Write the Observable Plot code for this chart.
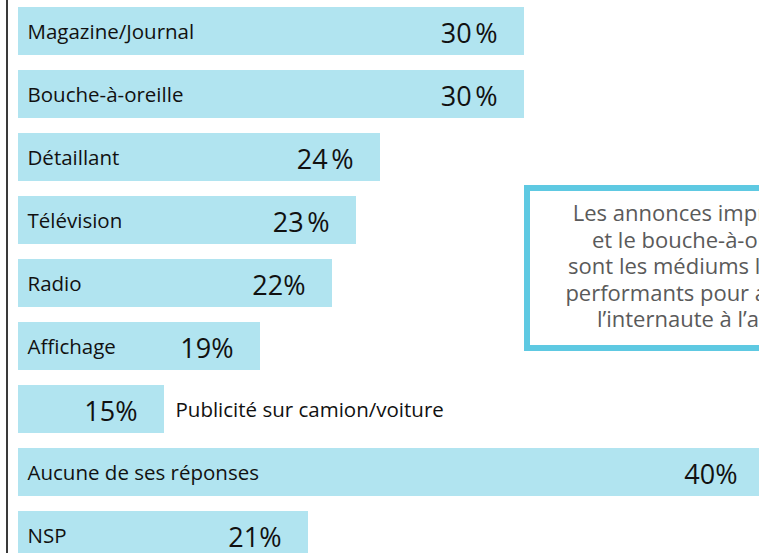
<!DOCTYPE html>
<html>
<head>
<meta charset="utf-8">
<script src="https://cdn.jsdelivr.net/npm/d3@7"></script>
<script src="https://cdn.jsdelivr.net/npm/@observablehq/plot@0.6"></script>
<style>
  html, body { margin: 0; padding: 0; background: #fff; overflow: hidden; width: 759px; height: 553px; }
  #wrap { position: relative; width: 759px; height: 553px; overflow: hidden; }
  #wrap svg { display: block; }
  #rule { position: absolute; left: 6px; top: 0; width: 2px; height: 553px; background: #3a3a3a; }
  #callout {
    position: absolute; left: 524px; top: 185px;
    width: 340px; height: 146px; padding-top: 8px;
    border: 6px solid #5ec9e2; background: #fff;
    font-family: "Open Sans", sans-serif; font-size: 22px; line-height: 26.5px;
    color: #5a5a5a; text-align: center; white-space: nowrap;
  }
</style>
</head>
<body>
<div id="wrap">
  <div id="chart"></div>
  <div id="rule"></div>
  <div id="callout">Les annonces imprimées<br>et le bouche-à-oreille<br>sont les médiums les plus<br>performants pour amener<br>l’internaute à l’achat</div>
</div>
<script>
const categories = [
  "Magazine/Journal",
  "Bouche-à-oreille",
  "Détaillant",
  "Télévision",
  "Radio",
  "Affichage",
  "Publicité sur camion/voiture",
  "Aucune de ses réponses",
  "NSP"
];
const values = [30, 30, 24, 23, 22, 19, 15, 40, 21];
const valueLabels = ["30\u202F%", "30\u202F%", "24\u202F%", "23\u202F%", "22%", "19%", "15%", "40%", "21%"];
const labelOutside = ["Publicité sur camion/voiture"];

const data = categories.map((c, i) => ({ category: c, value: values[i], label: valueLabels[i] }));

const chart = Plot.plot({
  width: 759,
  height: 567,
  marginLeft: 18,
  marginRight: 0,
  marginTop: 0,
  marginBottom: 0,
  x: { domain: [0, 40], range: [-196, 764], axis: null },
  y: { domain: categories, axis: null, paddingInner: 0.238, paddingOuter: 0.119, align: 0.5 },
  style: { fontFamily: "'Open Sans', sans-serif", background: "#fff", overflow: "hidden" },
  marks: [
    Plot.barX(data, { y: "category", x1: 0, x2: "value", fill: "#b1e4f0", clip: true }),
    Plot.text(data.filter(d => !labelOutside.includes(d.category)), {
      y: "category", text: "category", frameAnchor: "left", dx: 9, dy: 1,
      textAnchor: "start", fontSize: 20.5, fill: "#111"
    }),
    Plot.text(data.filter(d => labelOutside.includes(d.category)), {
      y: "category", x: "value", text: "category", dx: 11, dy: 1,
      textAnchor: "start", fontSize: 20.5, fill: "#111"
    }),
    Plot.text(data, {
      y: "category", x: "value", text: "label", dx: -27, dy: 3,
      textAnchor: "end", fontSize: 27, fill: "#111"
    })
  ]
});
document.getElementById("chart").appendChild(chart);
</script>
</body>
</html>
